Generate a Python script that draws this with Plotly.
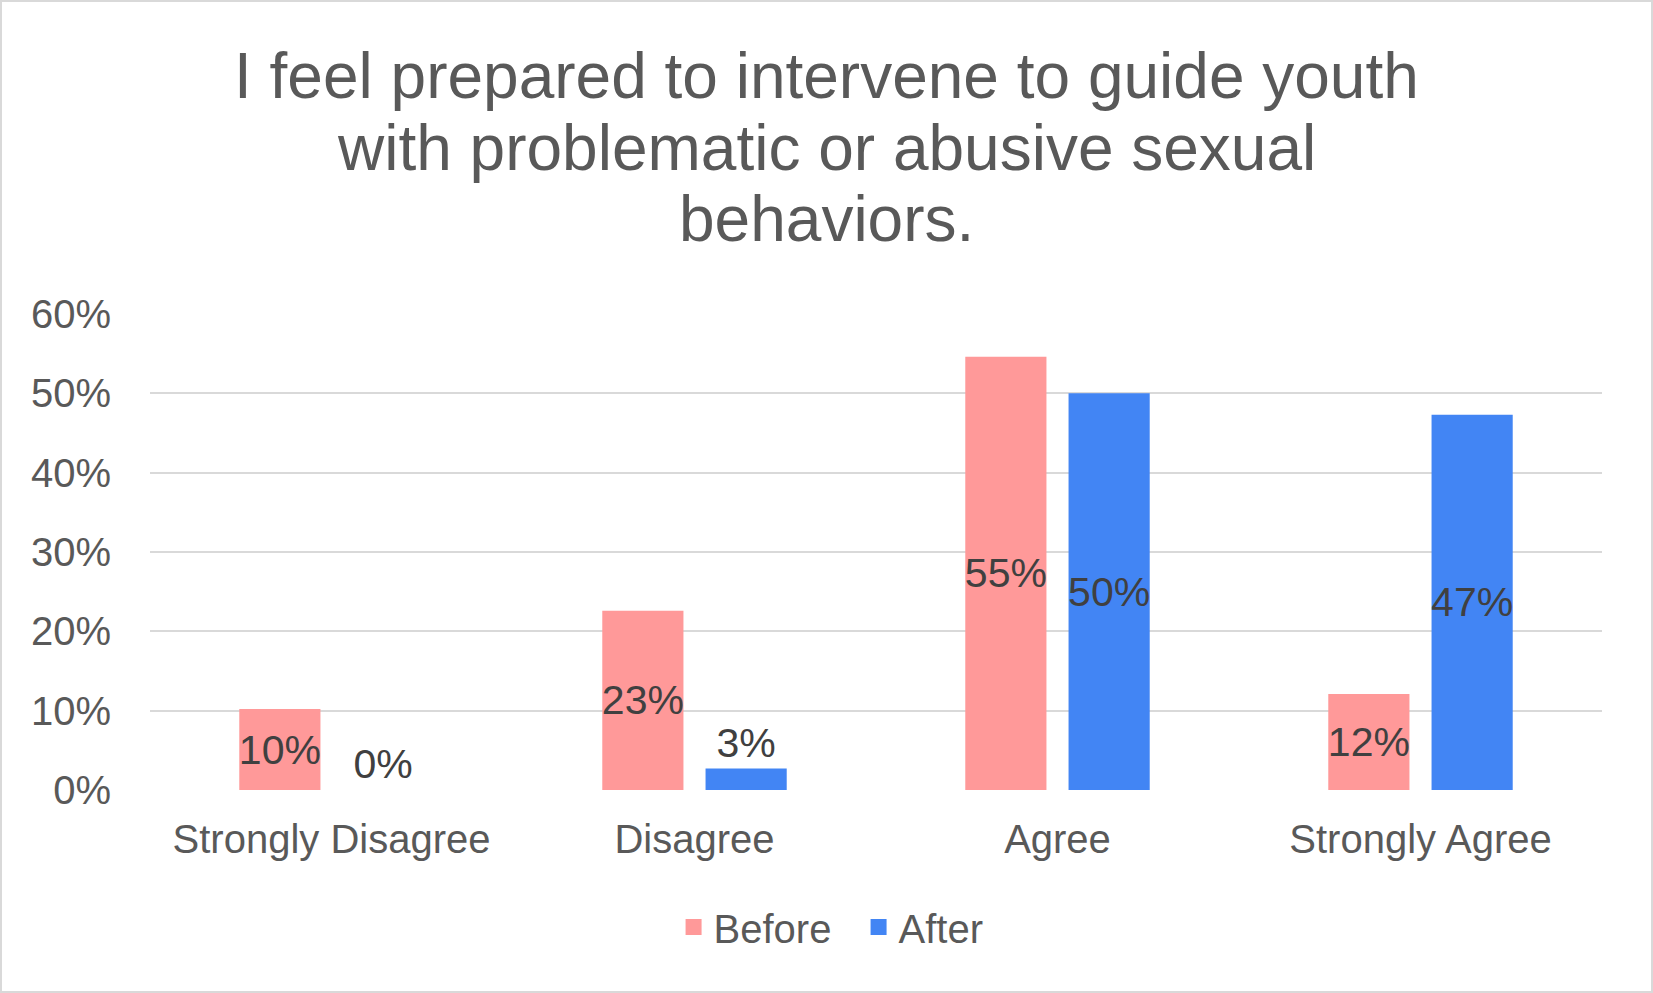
import plotly.graph_objects as go

categories = ["Strongly Disagree", "Disagree", "Agree", "Strongly Agree"]
before = [0.102, 0.226, 0.546, 0.121]
after = [0.0, 0.027, 0.500, 0.473]
before_pos = ["inside", "inside", "inside", "inside"]
after_pos = ["outside", "outside", "inside", "inside"]
y_ticks = [0, 0.1, 0.2, 0.3, 0.4, 0.5, 0.6]
title_lines = [
    "I feel prepared to intervene to guide youth",
    "with problematic or abusive sexual",
    "behaviors.",
]
series_names = ["Before", "After"]
series_colors = ["#FF9999", "#4285F4"]

FONT = "Liberation Sans, Arial, sans-serif"
W, H = 1653, 993
ML, MR, MT, MB = 150, 51, 314, 203
pw = W - ML - MR
ph = H - MT - MB

fig = go.Figure()
for name, vals, pos, col in zip(series_names, [before, after], [before_pos, after_pos], series_colors):
    fig.add_trace(go.Bar(
        name=name, x=categories, y=vals,
        marker=dict(color=col, line=dict(width=0)),
        text=[f"{v:.0%}" for v in vals], textposition=pos,
        insidetextanchor="middle", textangle=0,
        textfont=dict(family=FONT, size=41, color="#404040"),
        cliponaxis=False, showlegend=False, legendgroup=name,
    ))
# legend entries (larger square swatches)
for name, col in zip(series_names, series_colors):
    fig.add_trace(go.Scatter(
        x=[None], y=[None], mode="markers", name=name, legendgroup=name,
        marker=dict(symbol="square", size=19, color=col),
    ))

fig.update_layout(
    width=W, height=H,
    margin=dict(l=ML, r=MR, t=MT, b=MB),
    paper_bgcolor="white", plot_bgcolor="white",
    barmode="group", bargap=0.431, bargroupgap=0.214,
    uniformtext=dict(mode="show", minsize=41),
    font=dict(family=FONT, color="#595959"),
    xaxis=dict(
        showgrid=False, showline=False, zeroline=False,
        tickfont=dict(family=FONT, size=40, color="#595959"),
        ticks="", ticklabelstandoff=22,
    ),
    yaxis=dict(
        range=[0, 0.6], tickvals=y_ticks, tickformat=".0%",
        showgrid=True, gridcolor="#D9D9D9", gridwidth=2,
        zeroline=False, showline=False,
        tickfont=dict(family=FONT, size=40, color="#595959"),
        ticks="", ticklabelstandoff=38,
    ),
    legend=dict(
        orientation="h", x=0.488, xanchor="center", y=-0.288, yanchor="middle",
        font=dict(family=FONT, size=40, color="#595959"),
        itemwidth=30, traceorder="normal", entrywidth=140,
    ),
    showlegend=True,
)

# title lines (reference line spacing is tighter than plotly's multi-line spacing)
title_y = [1.50, 1.349, 1.20]
for line, yy in zip(title_lines, title_y):
    fig.add_annotation(
        text=line, xref="paper", yref="paper",
        x=(W / 2 - ML) / pw, y=yy, xanchor="center", yanchor="middle",
        showarrow=False, font=dict(family=FONT, size=64, color="#595959"),
    )

fig.add_shape(
    type="rect", xref="paper", yref="paper",
    x0=-(ML - 1) / pw, x1=1 + (MR - 1) / pw,
    y0=-(MB - 1) / ph, y1=1 + (MT - 1) / ph,
    line=dict(color="#D9D9D9", width=2), fillcolor="rgba(0,0,0,0)",
    layer="below",
)

fig.write_html("out.html", config={"displayModeBar": False},
               post_script="document.body.style.margin='0';")
